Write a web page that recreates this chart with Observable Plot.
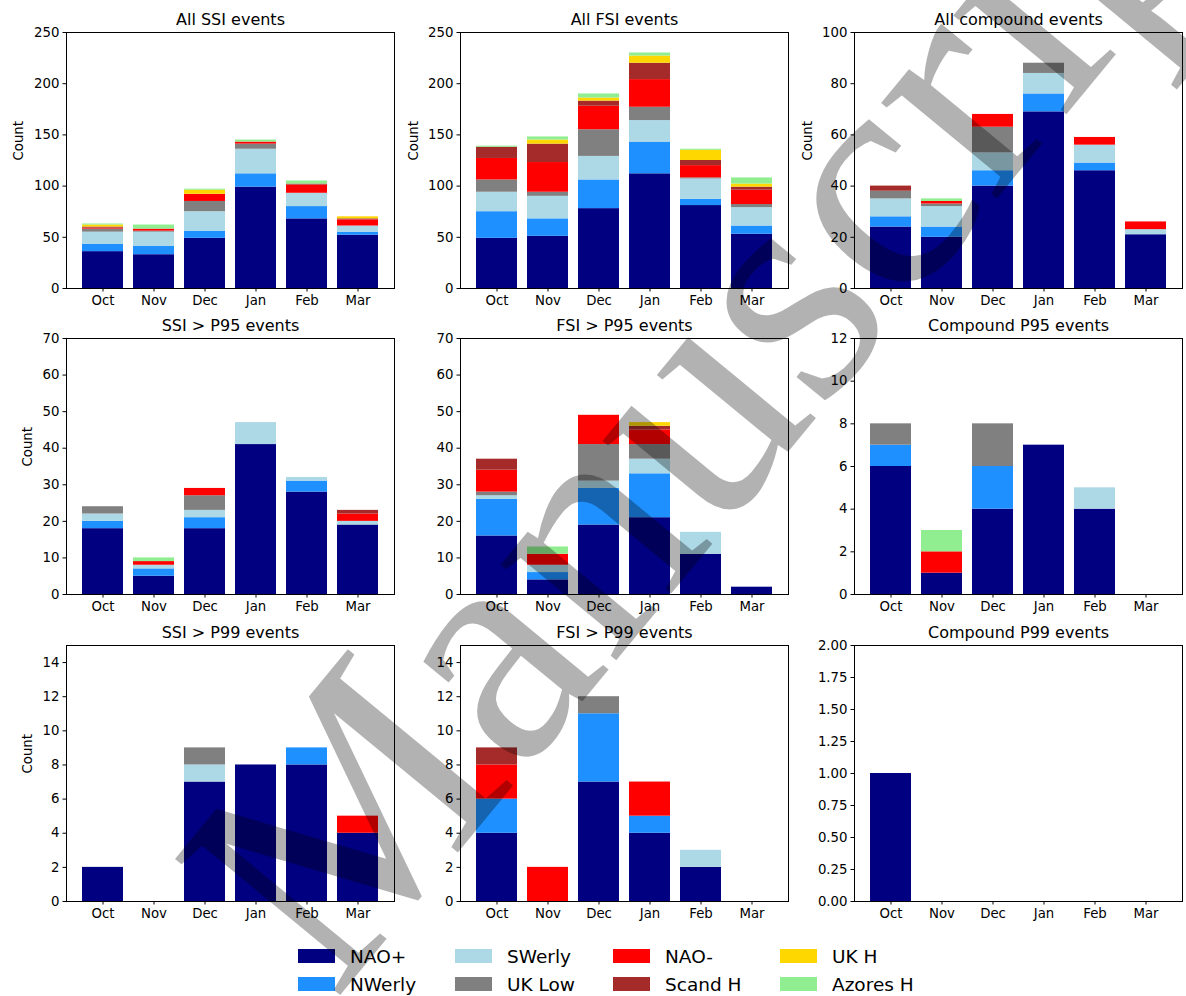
<!DOCTYPE html>
<html>
<head>
<meta charset="utf-8">
<script src="https://cdn.jsdelivr.net/npm/d3@7"></script>
<script src="https://cdn.jsdelivr.net/npm/@observablehq/plot@0.6"></script>
<style>
  html, body { margin: 0; padding: 0; background: #fff; }
  #fig { position: relative; width: 1186px; height: 996px; overflow: hidden; font-family: "DejaVu Sans", sans-serif; }
  #fig > svg.panel { position: absolute; overflow: visible; }
  .legend-item { position: absolute; display: flex; align-items: center; font-size: 18.5px; color: #000; white-space: nowrap; }
  .legend-item span.sw { display: inline-block; width: 37px; height: 14px; margin-right: 15px; }
  #wm { position: absolute; left: 0; top: 0; pointer-events: none; }
</style>
</head>
<body>
<div id="fig"></div>
<script>
// Circulation regimes (stacking order, bottom to top) and their colours
const regimes = ["NAO+", "NWerly", "SWerly", "UK Low", "NAO-", "Scand H", "UK H", "Azores H"];
const colors = ["#000080", "#1e90ff", "#add8e6", "#808080", "#ff0000", "#a52a2a", "#ffd700", "#90ee90"];
const months = ["Oct", "Nov", "Dec", "Jan", "Feb", "Mar"];

// Event counts: one row per regime, one column per month (Oct..Mar)
const allSSI = [
  [36, 33, 49, 99, 68, 52],
  [7, 8, 7, 13, 12, 3],
  [12, 14, 19, 24, 13, 6],
  [3, 1, 10, 5, 0, 0],
  [1, 2, 7, 2, 8, 6],
  [1, 0, 0, 0, 1, 1],
  [2, 0, 4, 0, 0, 2],
  [1, 4, 1, 2, 3, 0]
];
const allFSI = [
  [49, 51, 78, 112, 81, 53],
  [26, 17, 28, 31, 6, 8],
  [19, 22, 23, 21, 20, 18],
  [12, 4, 26, 13, 1, 3],
  [21, 29, 23, 27, 12, 14],
  [11, 18, 5, 16, 5, 3],
  [0, 4, 3, 7, 10, 3],
  [1, 3, 4, 3, 1, 6]
];
const allCompound = [
  [24, 20, 40, 69, 46, 21],
  [4, 4, 6, 7, 3, 0],
  [7, 8, 7, 8, 7, 2],
  [3, 1, 10, 4, 0, 0],
  [0, 1, 5, 0, 3, 3],
  [2, 0, 0, 0, 0, 0],
  [0, 0, 0, 0, 0, 0],
  [0, 1, 0, 0, 0, 0]
];
const ssiP95 = [
  [18, 5, 18, 41, 28, 19],
  [2, 2, 3, 0, 3, 0],
  [2, 1, 2, 6, 1, 1],
  [2, 0, 4, 0, 0, 0],
  [0, 1, 2, 0, 0, 2],
  [0, 0, 0, 0, 0, 1],
  [0, 0, 0, 0, 0, 0],
  [0, 1, 0, 0, 0, 0]
];
const fsiP95 = [
  [16, 4, 19, 21, 11, 2],
  [10, 2, 10, 12, 0, 0],
  [1, 2, 2, 4, 6, 0],
  [1, 0, 10, 4, 0, 0],
  [6, 3, 8, 4, 0, 0],
  [3, 0, 0, 1, 0, 0],
  [0, 0, 0, 1, 0, 0],
  [0, 2, 0, 0, 0, 0]
];
const compoundP95 = [
  [6, 1, 4, 7, 4, 0],
  [1, 0, 2, 0, 0, 0],
  [0, 0, 0, 0, 1, 0],
  [1, 0, 2, 0, 0, 0],
  [0, 1, 0, 0, 0, 0],
  [0, 0, 0, 0, 0, 0],
  [0, 0, 0, 0, 0, 0],
  [0, 1, 0, 0, 0, 0]
];
const ssiP99 = [
  [2, 0, 7, 8, 8, 4],
  [0, 0, 0, 0, 1, 0],
  [0, 0, 1, 0, 0, 0],
  [0, 0, 1, 0, 0, 0],
  [0, 0, 0, 0, 0, 1],
  [0, 0, 0, 0, 0, 0],
  [0, 0, 0, 0, 0, 0],
  [0, 0, 0, 0, 0, 0]
];
const fsiP99 = [
  [4, 0, 7, 4, 2, 0],
  [2, 0, 4, 1, 0, 0],
  [0, 0, 0, 0, 1, 0],
  [0, 0, 1, 0, 0, 0],
  [2, 2, 0, 2, 0, 0],
  [1, 0, 0, 0, 0, 0],
  [0, 0, 0, 0, 0, 0],
  [0, 0, 0, 0, 0, 0]
];
const compoundP99 = [
  [1, 0, 0, 0, 0, 0],
  [0, 0, 0, 0, 0, 0],
  [0, 0, 0, 0, 0, 0],
  [0, 0, 0, 0, 0, 0],
  [0, 0, 0, 0, 0, 0],
  [0, 0, 0, 0, 0, 0],
  [0, 0, 0, 0, 0, 0],
  [0, 0, 0, 0, 0, 0]
];

// Y-axis ticks of each panel
const ticks250 = [0, 50, 100, 150, 200, 250];
const ticks100 = [0, 20, 40, 60, 80, 100];
const ticks70 = [0, 10, 20, 30, 40, 50, 60, 70];
const ticks12 = [0, 2, 4, 6, 8, 10, 12];
const ticks15 = [0, 2, 4, 6, 8, 10, 12, 14];
const ticks2 = [0, 0.25, 0.5, 0.75, 1, 1.25, 1.5, 1.75, 2];

// Panel grid: frame positions in the figure
const colLeft = [66, 460, 854];
const rowTop = [32, 338, 645];
const frameW = 328, frameH = 256;
const ML = 70, MR = 10, MT = 40, MB = 40;

const panels = [
  {title: "All SSI events", counts: allSSI, y: [0, 250], ticks: ticks250, row: 0, col: 0, ylabel: 48},
  {title: "All FSI events", counts: allFSI, y: [0, 250], ticks: ticks250, row: 0, col: 1, ylabel: 47},
  {title: "All compound events", counts: allCompound, y: [0, 100], ticks: ticks100, row: 0, col: 2, ylabel: 47},
  {title: "SSI > P95 events", counts: ssiP95, y: [0, 70], ticks: ticks70, row: 1, col: 0, ylabel: 39},
  {title: "FSI > P95 events", counts: fsiP95, y: [0, 70], ticks: ticks70, row: 1, col: 1},
  {title: "Compound P95 events", counts: compoundP95, y: [0, 12], ticks: ticks12, row: 1, col: 2},
  {title: "SSI > P99 events", counts: ssiP99, y: [0, 15], ticks: ticks15, row: 2, col: 0, ylabel: 39},
  {title: "FSI > P99 events", counts: fsiP99, y: [0, 15], ticks: ticks15, row: 2, col: 1},
  {title: "Compound P99 events", counts: compoundP99, y: [0, 2], ticks: ticks2, row: 2, col: 2, fmt: ".2f"}
];

// Long-format rows for stacking, in regime order so NAO+ sits at the bottom
function toRows(counts) {
  const rows = [];
  months.forEach((m, j) => {
    regimes.forEach((r, i) => rows.push({month: m, regime: r, count: counts[i][j]}));
  });
  return rows;
}

const fig = document.getElementById("fig");

for (const p of panels) {
  const svg = Plot.plot({
    width: frameW + ML + MR,
    height: frameH + MT + MB,
    marginLeft: ML, marginRight: MR, marginTop: MT, marginBottom: MB,
    style: {fontFamily: "DejaVu Sans", fontSize: "13.3px", color: "#000", background: "transparent", overflow: "visible"},
    x: {domain: months, type: "band", paddingInner: 0.2, paddingOuter: 0.29, align: 0.5, label: null, tickSize: 3.5, tickPadding: 3.5},
    y: {domain: p.y, ticks: p.ticks, tickFormat: p.fmt ? d3.format(p.fmt) : d3.format("d"), label: null, tickSize: 3.5, tickPadding: 3.5},
    color: {domain: regimes, range: colors},
    marks: [
      Plot.barY(toRows(p.counts), {x: "month", y: "count", fill: "regime"}),
      Plot.frame({stroke: "#000", strokeWidth: 1}),
      Plot.text([p.title], {text: d => d, frameAnchor: "top", lineAnchor: "bottom", dy: -8, fontSize: 16}),
      p.ylabel ? Plot.text(["Count"], {text: d => d, frameAnchor: "left", rotate: -90, dx: -p.ylabel, fontSize: 13.3}) : null
    ]
  });
  svg.classList.add("panel");
  svg.style.left = (colLeft[p.col] - ML) + "px";
  svg.style.top = (rowTop[p.row] - MT) + "px";
  fig.appendChild(svg);
}

// Legend: four columns of two entries
const legendCols = [298, 455, 613, 780];
const legendRows = [956, 984];
regimes.forEach((r, i) => {
  const item = document.createElement("div");
  item.className = "legend-item";
  item.style.left = legendCols[Math.floor(i / 2)] + "px";
  item.style.top = (legendRows[i % 2] - 11) + "px";
  item.style.height = "22px";
  const sw = document.createElement("span");
  sw.className = "sw";
  sw.style.background = colors[i];
  item.appendChild(sw);
  item.appendChild(document.createTextNode(r));
  fig.appendChild(item);
});

// Diagonal "Manuscript" stamp over the whole figure
const ns = "http://www.w3.org/2000/svg";
const wm = document.createElementNS(ns, "svg");
wm.setAttribute("id", "wm");
wm.setAttribute("width", 1186);
wm.setAttribute("height", 996);
const t = document.createElementNS(ns, "text");
t.setAttribute("x", 0);
t.setAttribute("y", 0);
t.setAttribute("text-anchor", "middle");
t.setAttribute("dominant-baseline", "middle");
t.setAttribute("font-family", "Liberation Serif, serif");
t.setAttribute("font-size", 327);
t.setAttribute("fill", "#000");
t.setAttribute("fill-opacity", 0.3);
t.setAttribute("transform", "translate(750,380) rotate(-50.5)");
t.textContent = "Manuscript";
wm.appendChild(t);
fig.appendChild(wm);
</script>
</body>
</html>
